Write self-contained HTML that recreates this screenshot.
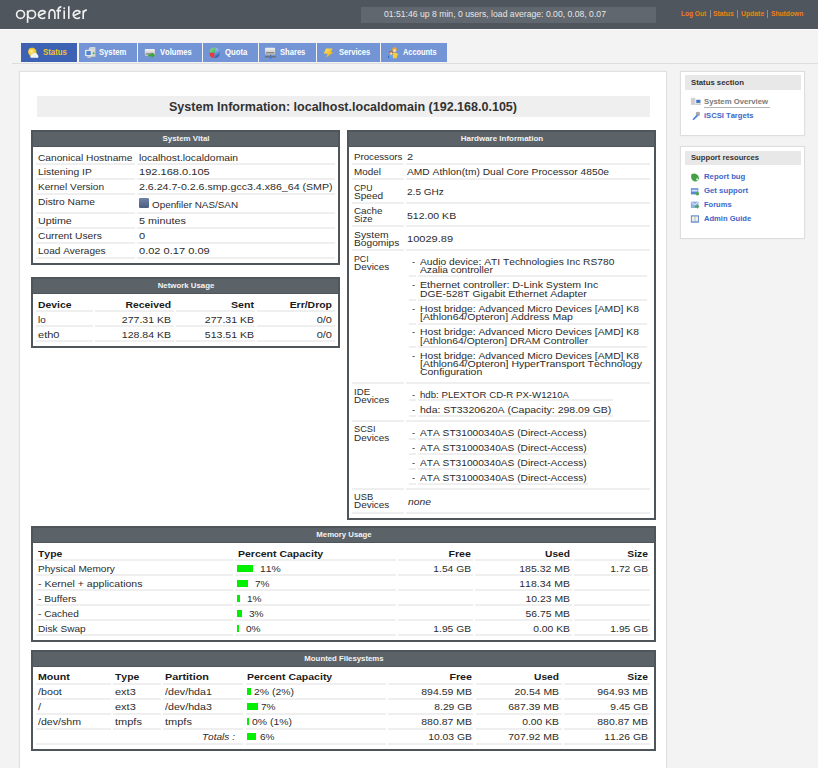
<!DOCTYPE html><html><head><meta charset="utf-8"><style>
html,body{margin:0;padding:0;}
body{width:818px;height:768px;overflow:hidden;background:#f3f3f3;position:relative;font-family:"Liberation Sans",sans-serif;}
.t{position:absolute;white-space:nowrap;line-height:20px;font-kerning:none;font-family:"Liberation Sans",sans-serif;}
.r{text-align:right;}
.c{text-align:center;}
.b{position:absolute;}
svg{position:absolute;overflow:visible;}
</style></head><body>
<div class="b" style="left:0px;top:0px;width:818px;height:29px;background:#4f565d;"></div>
<div class="b" style="left:0px;top:29px;width:818px;height:1px;background:#fbfbfb;"></div>
<div class="b" style="left:361px;top:7px;width:295px;height:16px;background:#60676e;"></div>
<div class="t" style="left:383.5px;top:4px;font-size:8.5px;color:#e6e6e6;transform:scaleX(1.0166);transform-origin:0 0;">01:51:46 up 8 min, 0 users, load average: 0.00, 0.08, 0.07</div>
<div class="t" style="left:680.7px;top:3.8000000000000007px;font-size:6.7px;font-weight:bold;color:#ee8016;transform:scaleX(0.9831);transform-origin:0 0;">Log Out</div>
<div class="t" style="left:713px;top:3.8000000000000007px;font-size:6.7px;font-weight:bold;color:#ee8016;transform:scaleX(1.0183);transform-origin:0 0;">Status</div>
<div class="t" style="left:740.7px;top:3.8000000000000007px;font-size:6.7px;font-weight:bold;color:#ee8016;transform:scaleX(1.0228);transform-origin:0 0;">Update</div>
<div class="t" style="left:770.6px;top:3.8000000000000007px;font-size:6.7px;font-weight:bold;color:#ee8016;transform:scaleX(0.9966);transform-origin:0 0;">Shutdown</div>
<div class="b" style="left:709.5px;top:10px;width:1px;height:8px;background:#8a8f94;"></div>
<div class="b" style="left:736.8px;top:10px;width:1px;height:8px;background:#8a8f94;"></div>
<div class="b" style="left:766.8px;top:10px;width:1px;height:8px;background:#8a8f94;"></div>
<div class="b" style="left:21px;top:43px;width:56px;height:19px;background:#3d62b3;"></div>
<div class="t" style="left:43.3px;top:43px;font-size:8.2px;font-weight:bold;color:#f3c623;transform:scaleX(0.9561);transform-origin:0 0;">Status</div>
<div class="b" style="left:79px;top:43px;width:58px;height:19px;background:#7395d5;"></div>
<div class="t" style="left:99px;top:43px;font-size:8.2px;font-weight:bold;color:#ffffff;transform:scaleX(0.9353);transform-origin:0 0;">System</div>
<div class="b" style="left:138px;top:43px;width:64px;height:19px;background:#7395d5;"></div>
<div class="t" style="left:160.1px;top:43px;font-size:8.2px;font-weight:bold;color:#ffffff;transform:scaleX(0.9259);transform-origin:0 0;">Volumes</div>
<div class="b" style="left:203px;top:43px;width:55px;height:19px;background:#7395d5;"></div>
<div class="t" style="left:224.8px;top:43px;font-size:8.2px;font-weight:bold;color:#ffffff;transform:scaleX(0.9407);transform-origin:0 0;">Quota</div>
<div class="b" style="left:259px;top:43px;width:57px;height:19px;background:#7395d5;"></div>
<div class="t" style="left:280.4px;top:43px;font-size:8.2px;font-weight:bold;color:#ffffff;transform:scaleX(0.9276);transform-origin:0 0;">Shares</div>
<div class="b" style="left:317px;top:43px;width:63px;height:19px;background:#7395d5;"></div>
<div class="t" style="left:338.8px;top:43px;font-size:8.2px;font-weight:bold;color:#ffffff;transform:scaleX(0.9226);transform-origin:0 0;">Services</div>
<div class="b" style="left:381px;top:43px;width:66px;height:19px;background:#7395d5;"></div>
<div class="t" style="left:402.8px;top:43px;font-size:8.2px;font-weight:bold;color:#ffffff;transform:scaleX(0.9018);transform-origin:0 0;">Accounts</div>
<div class="b" style="left:12px;top:63px;width:806px;height:1px;background:#dddddd;"></div>
<div class="b" style="left:20px;top:72px;width:646px;height:700px;background:#ffffff;box-shadow:0 0 1px 1px #e0e0e0;"></div>
<div class="b" style="left:37px;top:96px;width:613px;height:21px;background:#efefef;"></div>
<div class="t c" style="left:-56.69999999999999px;width:800px;top:96.5px;font-size:12.0px;font-weight:bold;color:#333;transform:scaleX(1.0438);transform-origin:400px 0;">System Information: localhost.localdomain (192.168.0.105)</div>
<div class="b" style="left:681px;top:72px;width:123px;height:63px;background:#ffffff;box-shadow:0 0 1px 1px #dedede;"></div>
<div class="b" style="left:684.5px;top:75.3px;width:116.5px;height:14.299999999999997px;background:#e8e8e8;"></div>
<div class="t" style="left:690.8px;top:72.5px;font-size:7.8px;font-weight:bold;color:#333;transform:scaleX(0.9942);transform-origin:0 0;">Status section</div>
<div class="t" style="left:704.4px;top:92.4px;font-size:7.8px;font-weight:bold;color:#7a7a7a;transform:scaleX(0.9919);transform-origin:0 0;">System Overview</div>
<div class="b" style="left:704.4px;top:107px;width:66px;height:1px;background:#b5b5b5;"></div>
<div class="t" style="left:704.4px;top:105.8px;font-size:7.8px;font-weight:bold;color:#3d65c9;transform:scaleX(0.9757);transform-origin:0 0;">iSCSI Targets</div>
<div class="b" style="left:681px;top:147px;width:123px;height:91px;background:#ffffff;box-shadow:0 0 1px 1px #dedede;"></div>
<div class="b" style="left:684.5px;top:151px;width:116.5px;height:13.800000000000011px;background:#e8e8e8;"></div>
<div class="t" style="left:690.8px;top:147.5px;font-size:7.8px;font-weight:bold;color:#333;transform:scaleX(0.9818);transform-origin:0 0;">Support resources</div>
<div class="t" style="left:704.4px;top:167.4px;font-size:7.8px;font-weight:bold;color:#3d65c9;transform:scaleX(0.9943);transform-origin:0 0;">Report bug</div>
<div class="t" style="left:704.4px;top:180.8px;font-size:7.8px;font-weight:bold;color:#3d65c9;transform:scaleX(0.9962);transform-origin:0 0;">Get support</div>
<div class="t" style="left:704.4px;top:194.6px;font-size:7.8px;font-weight:bold;color:#3d65c9;transform:scaleX(0.9646);transform-origin:0 0;">Forums</div>
<div class="t" style="left:704.4px;top:208.5px;font-size:7.8px;font-weight:bold;color:#3d65c9;transform:scaleX(0.9723);transform-origin:0 0;">Admin Guide</div>
<div class="b" style="left:31px;top:130px;width:309px;height:135px;background:#4e565c;"></div>
<div class="b" style="left:33px;top:147px;width:305px;height:116px;background:#ffffff;"></div>
<div class="b" style="left:33px;top:132px;width:305px;height:14px;background:#5b6268;"></div>
<div class="t c" style="left:-214.5px;width:800px;top:128.8px;font-size:7.5px;font-weight:bold;color:#f4f4f4;transform:scaleX(1.0544);transform-origin:400px 0;">System Vital</div>
<div class="b" style="left:36px;top:163px;width:99px;height:2px;background:#efefef;"></div>
<div class="b" style="left:137px;top:163px;width:198px;height:2px;background:#efefef;"></div>
<div class="b" style="left:36px;top:178px;width:99px;height:2px;background:#efefef;"></div>
<div class="b" style="left:137px;top:178px;width:198px;height:2px;background:#efefef;"></div>
<div class="b" style="left:36px;top:193px;width:99px;height:2px;background:#efefef;"></div>
<div class="b" style="left:137px;top:193px;width:198px;height:2px;background:#efefef;"></div>
<div class="b" style="left:36px;top:212px;width:99px;height:2px;background:#efefef;"></div>
<div class="b" style="left:137px;top:212px;width:198px;height:2px;background:#efefef;"></div>
<div class="b" style="left:36px;top:227px;width:99px;height:2px;background:#efefef;"></div>
<div class="b" style="left:137px;top:227px;width:198px;height:2px;background:#efefef;"></div>
<div class="b" style="left:36px;top:242px;width:99px;height:2px;background:#efefef;"></div>
<div class="b" style="left:137px;top:242px;width:198px;height:2px;background:#efefef;"></div>
<div class="b" style="left:36px;top:257px;width:99px;height:2px;background:#efefef;"></div>
<div class="b" style="left:137px;top:257px;width:198px;height:2px;background:#efefef;"></div>
<div class="t" style="left:38px;top:147.6px;font-size:9.8px;color:#2c2c2c;transform:scaleX(1.0389);transform-origin:0 0;">Canonical Hostname</div>
<div class="t" style="left:139px;top:147.6px;font-size:9.8px;color:#2c2c2c;transform:scaleX(1.0579);transform-origin:0 0;">localhost.localdomain</div>
<div class="t" style="left:38px;top:162.4px;font-size:9.8px;color:#2c2c2c;transform:scaleX(1.0503);transform-origin:0 0;">Listening IP</div>
<div class="t" style="left:139px;top:162.4px;font-size:9.8px;color:#2c2c2c;transform:scaleX(1.1280);transform-origin:0 0;">192.168.0.105</div>
<div class="t" style="left:38px;top:177.4px;font-size:9.8px;color:#2c2c2c;transform:scaleX(1.0281);transform-origin:0 0;">Kernel Version</div>
<div class="t" style="left:139px;top:177.4px;font-size:9.8px;color:#2c2c2c;transform:scaleX(1.0837);transform-origin:0 0;">2.6.24.7-0.2.6.smp.gcc3.4.x86_64 (SMP)</div>
<div class="t" style="left:38px;top:192px;font-size:9.8px;color:#2c2c2c;transform:scaleX(1.0442);transform-origin:0 0;">Distro Name</div>
<div class="t" style="left:38px;top:211.2px;font-size:9.8px;color:#2c2c2c;transform:scaleX(1.0892);transform-origin:0 0;">Uptime</div>
<div class="t" style="left:139px;top:211.2px;font-size:9.8px;color:#2c2c2c;transform:scaleX(1.1032);transform-origin:0 0;">5 minutes</div>
<div class="t" style="left:38px;top:226.3px;font-size:9.8px;color:#2c2c2c;transform:scaleX(1.0457);transform-origin:0 0;">Current Users</div>
<div class="t" style="left:139px;top:226.3px;font-size:9.8px;color:#2c2c2c;transform:scaleX(1.1279);transform-origin:0 0;">0</div>
<div class="t" style="left:38px;top:241.4px;font-size:9.8px;color:#2c2c2c;transform:scaleX(1.0257);transform-origin:0 0;">Load Averages</div>
<div class="t" style="left:139px;top:241.4px;font-size:9.8px;color:#2c2c2c;transform:scaleX(1.1281);transform-origin:0 0;">0.02 0.17 0.09</div>
<div class="t" style="left:152px;top:195.3px;font-size:9.8px;color:#2c2c2c;transform:scaleX(1.0064);transform-origin:0 0;">Openfiler NAS/SAN</div>
<div class="b" style="left:31px;top:277px;width:309px;height:71px;background:#4e565c;"></div>
<div class="b" style="left:33px;top:294px;width:305px;height:52px;background:#ffffff;"></div>
<div class="b" style="left:33px;top:279px;width:305px;height:14px;background:#5b6268;"></div>
<div class="t c" style="left:-214.5px;width:800px;top:275.8px;font-size:7.5px;font-weight:bold;color:#f4f4f4;transform:scaleX(1.0459);transform-origin:400px 0;">Network Usage</div>
<div class="b" style="left:36px;top:310px;width:57px;height:2px;background:#efefef;"></div>
<div class="b" style="left:94.5px;top:310px;width:79.5px;height:2px;background:#efefef;"></div>
<div class="b" style="left:176px;top:310px;width:79px;height:2px;background:#efefef;"></div>
<div class="b" style="left:257px;top:310px;width:77.5px;height:2px;background:#efefef;"></div>
<div class="b" style="left:36px;top:325px;width:57px;height:2px;background:#efefef;"></div>
<div class="b" style="left:94.5px;top:325px;width:79.5px;height:2px;background:#efefef;"></div>
<div class="b" style="left:176px;top:325px;width:79px;height:2px;background:#efefef;"></div>
<div class="b" style="left:257px;top:325px;width:77.5px;height:2px;background:#efefef;"></div>
<div class="b" style="left:36px;top:340px;width:57px;height:2px;background:#efefef;"></div>
<div class="b" style="left:94.5px;top:340px;width:79.5px;height:2px;background:#efefef;"></div>
<div class="b" style="left:176px;top:340px;width:79px;height:2px;background:#efefef;"></div>
<div class="b" style="left:257px;top:340px;width:77.5px;height:2px;background:#efefef;"></div>
<div class="t" style="left:38.3px;top:294.5px;font-size:9.8px;font-weight:bold;color:#1a1a1a;transform:scaleX(1.0629);transform-origin:0 0;">Device</div>
<div class="t r" style="left:-428.7px;width:600px;top:294.5px;font-size:9.8px;font-weight:bold;color:#1a1a1a;transform:scaleX(1.0563);transform-origin:600px 0;">Received</div>
<div class="t r" style="left:-346.4px;width:600px;top:294.5px;font-size:9.8px;font-weight:bold;color:#1a1a1a;transform:scaleX(1.0848);transform-origin:600px 0;">Sent</div>
<div class="t r" style="left:-267.7px;width:600px;top:294.5px;font-size:9.8px;font-weight:bold;color:#1a1a1a;transform:scaleX(1.0659);transform-origin:600px 0;">Err/Drop</div>
<div class="t" style="left:38.3px;top:309.8px;font-size:9.8px;color:#2c2c2c;transform:scaleX(1.0074);transform-origin:0 0;">lo</div>
<div class="t r" style="left:-428.7px;width:600px;top:309.8px;font-size:9.8px;color:#2c2c2c;transform:scaleX(1.0745);transform-origin:600px 0;">277.31 KB</div>
<div class="t r" style="left:-346.4px;width:600px;top:309.8px;font-size:9.8px;color:#2c2c2c;transform:scaleX(1.0745);transform-origin:600px 0;">277.31 KB</div>
<div class="t r" style="left:-267.7px;width:600px;top:309.8px;font-size:9.8px;color:#2c2c2c;transform:scaleX(1.1281);transform-origin:600px 0;">0/0</div>
<div class="t" style="left:38.3px;top:324.9px;font-size:9.8px;color:#2c2c2c;transform:scaleX(1.1280);transform-origin:0 0;">eth0</div>
<div class="t r" style="left:-428.7px;width:600px;top:324.9px;font-size:9.8px;color:#2c2c2c;transform:scaleX(1.0745);transform-origin:600px 0;">128.84 KB</div>
<div class="t r" style="left:-346.4px;width:600px;top:324.9px;font-size:9.8px;color:#2c2c2c;transform:scaleX(1.0745);transform-origin:600px 0;">513.51 KB</div>
<div class="t r" style="left:-267.7px;width:600px;top:324.9px;font-size:9.8px;color:#2c2c2c;transform:scaleX(1.1281);transform-origin:600px 0;">0/0</div>
<div class="b" style="left:347px;top:130px;width:309px;height:390px;background:#4e565c;"></div>
<div class="b" style="left:349px;top:147px;width:305px;height:371px;background:#ffffff;"></div>
<div class="b" style="left:349px;top:132px;width:305px;height:14px;background:#5b6268;"></div>
<div class="t c" style="left:101.5px;width:800px;top:128.8px;font-size:7.5px;font-weight:bold;color:#f4f4f4;transform:scaleX(1.0622);transform-origin:400px 0;">Hardware Information</div>
<div class="b" style="left:352px;top:163px;width:51.69999999999999px;height:2px;background:#efefef;"></div>
<div class="b" style="left:405.7px;top:163px;width:244.50000000000006px;height:2px;background:#efefef;"></div>
<div class="b" style="left:352px;top:178px;width:51.69999999999999px;height:2px;background:#efefef;"></div>
<div class="b" style="left:405.7px;top:178px;width:244.50000000000006px;height:2px;background:#efefef;"></div>
<div class="b" style="left:352px;top:202px;width:51.69999999999999px;height:2px;background:#efefef;"></div>
<div class="b" style="left:405.7px;top:202px;width:244.50000000000006px;height:2px;background:#efefef;"></div>
<div class="b" style="left:352px;top:225px;width:51.69999999999999px;height:2px;background:#efefef;"></div>
<div class="b" style="left:405.7px;top:225px;width:244.50000000000006px;height:2px;background:#efefef;"></div>
<div class="b" style="left:352px;top:249px;width:51.69999999999999px;height:2px;background:#efefef;"></div>
<div class="b" style="left:405.7px;top:249px;width:244.50000000000006px;height:2px;background:#efefef;"></div>
<div class="b" style="left:352px;top:382px;width:51.69999999999999px;height:2px;background:#efefef;"></div>
<div class="b" style="left:405.7px;top:382px;width:244.50000000000006px;height:2px;background:#efefef;"></div>
<div class="b" style="left:352px;top:420px;width:51.69999999999999px;height:2px;background:#efefef;"></div>
<div class="b" style="left:405.7px;top:420px;width:244.50000000000006px;height:2px;background:#efefef;"></div>
<div class="b" style="left:352px;top:488px;width:51.69999999999999px;height:2px;background:#efefef;"></div>
<div class="b" style="left:405.7px;top:488px;width:244.50000000000006px;height:2px;background:#efefef;"></div>
<div class="b" style="left:352px;top:512px;width:51.69999999999999px;height:2px;background:#efefef;"></div>
<div class="b" style="left:405.7px;top:512px;width:244.50000000000006px;height:2px;background:#efefef;"></div>
<div class="t" style="left:354px;top:147.3px;font-size:9.8px;color:#2c2c2c;transform:scaleX(0.9877);transform-origin:0 0;">Processors</div>
<div class="t" style="left:354px;top:162.3px;font-size:9.8px;color:#2c2c2c;transform:scaleX(1.0076);transform-origin:0 0;">Model</div>
<div class="t" style="left:354px;top:177.8px;font-size:9.8px;color:#2c2c2c;transform:scaleX(0.8913);transform-origin:0 0;">CPU</div>
<div class="t" style="left:354px;top:186.05px;font-size:9.8px;color:#2c2c2c;transform:scaleX(1.0304);transform-origin:0 0;">Speed</div>
<div class="t" style="left:354px;top:201.2px;font-size:9.8px;color:#2c2c2c;transform:scaleX(1.0036);transform-origin:0 0;">Cache</div>
<div class="t" style="left:354px;top:209.45px;font-size:9.8px;color:#2c2c2c;transform:scaleX(0.9673);transform-origin:0 0;">Size</div>
<div class="t" style="left:354px;top:225.0px;font-size:9.8px;color:#2c2c2c;transform:scaleX(1.0583);transform-origin:0 0;">System</div>
<div class="t" style="left:354px;top:233.25px;font-size:9.8px;color:#2c2c2c;transform:scaleX(1.0403);transform-origin:0 0;">Bogomips</div>
<div class="t" style="left:354px;top:248.60000000000002px;font-size:9.8px;color:#2c2c2c;transform:scaleX(0.8937);transform-origin:0 0;">PCI</div>
<div class="t" style="left:354px;top:256.85px;font-size:9.8px;color:#2c2c2c;transform:scaleX(1.0141);transform-origin:0 0;">Devices</div>
<div class="t" style="left:354px;top:381.6px;font-size:9.8px;color:#2c2c2c;transform:scaleX(0.9877);transform-origin:0 0;">IDE</div>
<div class="t" style="left:354px;top:389.85px;font-size:9.8px;color:#2c2c2c;transform:scaleX(1.0141);transform-origin:0 0;">Devices</div>
<div class="t" style="left:354px;top:419.3px;font-size:9.8px;color:#2c2c2c;transform:scaleX(0.9406);transform-origin:0 0;">SCSI</div>
<div class="t" style="left:354px;top:427.55px;font-size:9.8px;color:#2c2c2c;transform:scaleX(1.0141);transform-origin:0 0;">Devices</div>
<div class="t" style="left:354px;top:487.2px;font-size:9.8px;color:#2c2c2c;transform:scaleX(0.9533);transform-origin:0 0;">USB</div>
<div class="t" style="left:354px;top:495.45px;font-size:9.8px;color:#2c2c2c;transform:scaleX(1.0141);transform-origin:0 0;">Devices</div>
<div class="t" style="left:407px;top:147.3px;font-size:9.8px;color:#2c2c2c;transform:scaleX(1.1279);transform-origin:0 0;">2</div>
<div class="t" style="left:407px;top:162.3px;font-size:9.8px;color:#2c2c2c;transform:scaleX(1.0452);transform-origin:0 0;">AMD Athlon(tm) Dual Core Processor 4850e</div>
<div class="t" style="left:407px;top:181.8px;font-size:9.8px;color:#2c2c2c;transform:scaleX(1.0261);transform-origin:0 0;">2.5 GHz</div>
<div class="t" style="left:407px;top:205.5px;font-size:9.8px;color:#2c2c2c;transform:scaleX(1.0745);transform-origin:0 0;">512.00 KB</div>
<div class="t" style="left:407px;top:229.2px;font-size:9.8px;color:#2c2c2c;transform:scaleX(1.1279);transform-origin:0 0;">10029.89</div>
<div class="b" style="left:408.8px;top:275px;width:7.5px;height:2px;background:#efefef;"></div>
<div class="b" style="left:418.1px;top:275px;width:228.60000000000002px;height:2px;background:#efefef;"></div>
<div class="b" style="left:408.8px;top:299px;width:7.5px;height:2px;background:#efefef;"></div>
<div class="b" style="left:418.1px;top:299px;width:228.60000000000002px;height:2px;background:#efefef;"></div>
<div class="b" style="left:408.8px;top:322.5px;width:7.5px;height:2px;background:#efefef;"></div>
<div class="b" style="left:418.1px;top:322.5px;width:228.60000000000002px;height:2px;background:#efefef;"></div>
<div class="b" style="left:408.8px;top:346px;width:7.5px;height:2px;background:#efefef;"></div>
<div class="b" style="left:418.1px;top:346px;width:228.60000000000002px;height:2px;background:#efefef;"></div>
<div class="t" style="left:411.5px;top:251.60000000000002px;font-size:9.8px;color:#2c2c2c;transform:scaleX(0.9418);transform-origin:0 0;">-</div>
<div class="t" style="left:420.3px;top:251.60000000000002px;font-size:9.8px;color:#2c2c2c;transform:scaleX(1.0435);transform-origin:0 0;">Audio device: ATI Technologies Inc RS780</div>
<div class="t" style="left:420.3px;top:259.85px;font-size:9.8px;color:#2c2c2c;transform:scaleX(1.0470);transform-origin:0 0;">Azalia controller</div>
<div class="t" style="left:411.5px;top:275.4px;font-size:9.8px;color:#2c2c2c;transform:scaleX(0.9418);transform-origin:0 0;">-</div>
<div class="t" style="left:420.3px;top:275.4px;font-size:9.8px;color:#2c2c2c;transform:scaleX(1.0802);transform-origin:0 0;">Ethernet controller: D-Link System Inc</div>
<div class="t" style="left:420.3px;top:283.65px;font-size:9.8px;color:#2c2c2c;transform:scaleX(1.0592);transform-origin:0 0;">DGE-528T Gigabit Ethernet Adapter</div>
<div class="t" style="left:411.5px;top:298.9px;font-size:9.8px;color:#2c2c2c;transform:scaleX(0.9418);transform-origin:0 0;">-</div>
<div class="t" style="left:420.3px;top:298.9px;font-size:9.8px;color:#2c2c2c;transform:scaleX(1.0526);transform-origin:0 0;">Host bridge: Advanced Micro Devices [AMD] K8</div>
<div class="t" style="left:420.3px;top:307.15px;font-size:9.8px;color:#2c2c2c;transform:scaleX(1.0714);transform-origin:0 0;">[Athlon64/Opteron] Address Map</div>
<div class="t" style="left:411.5px;top:322.4px;font-size:9.8px;color:#2c2c2c;transform:scaleX(0.9418);transform-origin:0 0;">-</div>
<div class="t" style="left:420.3px;top:322.4px;font-size:9.8px;color:#2c2c2c;transform:scaleX(1.0526);transform-origin:0 0;">Host bridge: Advanced Micro Devices [AMD] K8</div>
<div class="t" style="left:420.3px;top:330.65px;font-size:9.8px;color:#2c2c2c;transform:scaleX(1.0580);transform-origin:0 0;">[Athlon64/Opteron] DRAM Controller</div>
<div class="t" style="left:411.5px;top:345.8px;font-size:9.8px;color:#2c2c2c;transform:scaleX(0.9418);transform-origin:0 0;">-</div>
<div class="t" style="left:420.3px;top:345.8px;font-size:9.8px;color:#2c2c2c;transform:scaleX(1.0526);transform-origin:0 0;">Host bridge: Advanced Micro Devices [AMD] K8</div>
<div class="t" style="left:420.3px;top:354.05px;font-size:9.8px;color:#2c2c2c;transform:scaleX(1.0756);transform-origin:0 0;">[Athlon64/Opteron] HyperTransport Technology</div>
<div class="t" style="left:420.3px;top:362.3px;font-size:9.8px;color:#2c2c2c;transform:scaleX(1.0677);transform-origin:0 0;">Configuration</div>
<div class="b" style="left:408.8px;top:399px;width:7.5px;height:2px;background:#efefef;"></div>
<div class="b" style="left:418.1px;top:399px;width:195.29999999999995px;height:2px;background:#efefef;"></div>
<div class="b" style="left:408.8px;top:415px;width:7.5px;height:2px;background:#efefef;"></div>
<div class="b" style="left:418.1px;top:415px;width:195.29999999999995px;height:2px;background:#efefef;"></div>
<div class="t" style="left:411.5px;top:384.5px;font-size:9.8px;color:#2c2c2c;transform:scaleX(0.9418);transform-origin:0 0;">-</div>
<div class="t" style="left:420.3px;top:384.5px;font-size:9.8px;color:#2c2c2c;transform:scaleX(0.9846);transform-origin:0 0;">hdb: PLEXTOR CD-R PX-W1210A</div>
<div class="t" style="left:411.5px;top:399.6px;font-size:9.8px;color:#2c2c2c;transform:scaleX(0.9418);transform-origin:0 0;">-</div>
<div class="t" style="left:420.3px;top:399.6px;font-size:9.8px;color:#2c2c2c;transform:scaleX(1.0708);transform-origin:0 0;">hda: ST3320620A (Capacity: 298.09 GB)</div>
<div class="b" style="left:408.8px;top:438px;width:7.5px;height:2px;background:#efefef;"></div>
<div class="b" style="left:418.1px;top:438px;width:169.60000000000002px;height:2px;background:#efefef;"></div>
<div class="b" style="left:408.8px;top:453px;width:7.5px;height:2px;background:#efefef;"></div>
<div class="b" style="left:418.1px;top:453px;width:169.60000000000002px;height:2px;background:#efefef;"></div>
<div class="b" style="left:408.8px;top:468px;width:7.5px;height:2px;background:#efefef;"></div>
<div class="b" style="left:418.1px;top:468px;width:169.60000000000002px;height:2px;background:#efefef;"></div>
<div class="b" style="left:408.8px;top:483px;width:7.5px;height:2px;background:#efefef;"></div>
<div class="b" style="left:418.1px;top:483px;width:169.60000000000002px;height:2px;background:#efefef;"></div>
<div class="t" style="left:411.5px;top:422.6px;font-size:9.8px;color:#2c2c2c;transform:scaleX(0.9418);transform-origin:0 0;">-</div>
<div class="t" style="left:420.3px;top:422.6px;font-size:9.8px;color:#2c2c2c;transform:scaleX(1.0378);transform-origin:0 0;">ATA ST31000340AS (Direct-Access)</div>
<div class="t" style="left:411.5px;top:437.5px;font-size:9.8px;color:#2c2c2c;transform:scaleX(0.9418);transform-origin:0 0;">-</div>
<div class="t" style="left:420.3px;top:437.5px;font-size:9.8px;color:#2c2c2c;transform:scaleX(1.0378);transform-origin:0 0;">ATA ST31000340AS (Direct-Access)</div>
<div class="t" style="left:411.5px;top:452.5px;font-size:9.8px;color:#2c2c2c;transform:scaleX(0.9418);transform-origin:0 0;">-</div>
<div class="t" style="left:420.3px;top:452.5px;font-size:9.8px;color:#2c2c2c;transform:scaleX(1.0378);transform-origin:0 0;">ATA ST31000340AS (Direct-Access)</div>
<div class="t" style="left:411.5px;top:467.6px;font-size:9.8px;color:#2c2c2c;transform:scaleX(0.9418);transform-origin:0 0;">-</div>
<div class="t" style="left:420.3px;top:467.6px;font-size:9.8px;color:#2c2c2c;transform:scaleX(1.0378);transform-origin:0 0;">ATA ST31000340AS (Direct-Access)</div>
<div class="t" style="left:407.6px;top:491.5px;font-size:9.8px;font-style:italic;color:#2c2c2c;transform:scaleX(1.0574);transform-origin:0 0;">none</div>
<div class="b" style="left:31px;top:526px;width:625px;height:116px;background:#4e565c;"></div>
<div class="b" style="left:33px;top:543px;width:621px;height:97px;background:#ffffff;"></div>
<div class="b" style="left:33px;top:528px;width:621px;height:14px;background:#5b6268;"></div>
<div class="t c" style="left:-56.5px;width:800px;top:524.8px;font-size:7.5px;font-weight:bold;color:#f4f4f4;transform:scaleX(1.0356);transform-origin:400px 0;">Memory Usage</div>
<div class="b" style="left:36px;top:559px;width:197.3px;height:2px;background:#efefef;"></div>
<div class="b" style="left:235.3px;top:559px;width:160.3px;height:2px;background:#efefef;"></div>
<div class="b" style="left:398px;top:559px;width:74.5px;height:2px;background:#efefef;"></div>
<div class="b" style="left:474.5px;top:559px;width:97.5px;height:2px;background:#efefef;"></div>
<div class="b" style="left:574.3px;top:559px;width:75.90000000000009px;height:2px;background:#efefef;"></div>
<div class="b" style="left:36px;top:574px;width:197.3px;height:2px;background:#efefef;"></div>
<div class="b" style="left:235.3px;top:574px;width:160.3px;height:2px;background:#efefef;"></div>
<div class="b" style="left:398px;top:574px;width:74.5px;height:2px;background:#efefef;"></div>
<div class="b" style="left:474.5px;top:574px;width:97.5px;height:2px;background:#efefef;"></div>
<div class="b" style="left:574.3px;top:574px;width:75.90000000000009px;height:2px;background:#efefef;"></div>
<div class="b" style="left:36px;top:589px;width:197.3px;height:2px;background:#efefef;"></div>
<div class="b" style="left:235.3px;top:589px;width:160.3px;height:2px;background:#efefef;"></div>
<div class="b" style="left:398px;top:589px;width:74.5px;height:2px;background:#efefef;"></div>
<div class="b" style="left:474.5px;top:589px;width:97.5px;height:2px;background:#efefef;"></div>
<div class="b" style="left:574.3px;top:589px;width:75.90000000000009px;height:2px;background:#efefef;"></div>
<div class="b" style="left:36px;top:604px;width:197.3px;height:2px;background:#efefef;"></div>
<div class="b" style="left:235.3px;top:604px;width:160.3px;height:2px;background:#efefef;"></div>
<div class="b" style="left:398px;top:604px;width:74.5px;height:2px;background:#efefef;"></div>
<div class="b" style="left:474.5px;top:604px;width:97.5px;height:2px;background:#efefef;"></div>
<div class="b" style="left:574.3px;top:604px;width:75.90000000000009px;height:2px;background:#efefef;"></div>
<div class="b" style="left:36px;top:619px;width:197.3px;height:2px;background:#efefef;"></div>
<div class="b" style="left:235.3px;top:619px;width:160.3px;height:2px;background:#efefef;"></div>
<div class="b" style="left:398px;top:619px;width:74.5px;height:2px;background:#efefef;"></div>
<div class="b" style="left:474.5px;top:619px;width:97.5px;height:2px;background:#efefef;"></div>
<div class="b" style="left:574.3px;top:619px;width:75.90000000000009px;height:2px;background:#efefef;"></div>
<div class="b" style="left:36px;top:634px;width:197.3px;height:2px;background:#efefef;"></div>
<div class="b" style="left:235.3px;top:634px;width:160.3px;height:2px;background:#efefef;"></div>
<div class="b" style="left:398px;top:634px;width:74.5px;height:2px;background:#efefef;"></div>
<div class="b" style="left:474.5px;top:634px;width:97.5px;height:2px;background:#efefef;"></div>
<div class="b" style="left:574.3px;top:634px;width:75.90000000000009px;height:2px;background:#efefef;"></div>
<div class="t" style="left:38.2px;top:543.7px;font-size:9.8px;font-weight:bold;color:#1a1a1a;transform:scaleX(1.0615);transform-origin:0 0;">Type</div>
<div class="t" style="left:237.6px;top:543.7px;font-size:9.8px;font-weight:bold;color:#1a1a1a;transform:scaleX(1.0719);transform-origin:0 0;">Percent Capacity</div>
<div class="t r" style="left:-129.39999999999998px;width:600px;top:543.7px;font-size:9.8px;font-weight:bold;color:#1a1a1a;transform:scaleX(1.0889);transform-origin:600px 0;">Free</div>
<div class="t r" style="left:-30px;width:600px;top:543.7px;font-size:9.8px;font-weight:bold;color:#1a1a1a;transform:scaleX(1.0404);transform-origin:600px 0;">Used</div>
<div class="t r" style="left:48.299999999999955px;width:600px;top:543.7px;font-size:9.8px;font-weight:bold;color:#1a1a1a;transform:scaleX(1.0544);transform-origin:600px 0;">Size</div>
<div class="t" style="left:38.2px;top:558.8px;font-size:9.8px;color:#2c2c2c;transform:scaleX(1.0300);transform-origin:0 0;">Physical Memory</div>
<div class="b" style="left:237.2px;top:565.0px;width:15.6px;height:7px;background:#00f000;"></div>
<div class="t" style="left:260.1px;top:558.8px;font-size:9.8px;color:#2c2c2c;transform:scaleX(1.0577);transform-origin:0 0;">11%</div>
<div class="t r" style="left:-129.39999999999998px;width:600px;top:558.8px;font-size:9.8px;color:#2c2c2c;transform:scaleX(1.0472);transform-origin:600px 0;">1.54 GB</div>
<div class="t r" style="left:-30px;width:600px;top:558.8px;font-size:9.8px;color:#2c2c2c;transform:scaleX(1.0700);transform-origin:600px 0;">185.32 MB</div>
<div class="t r" style="left:48.299999999999955px;width:600px;top:558.8px;font-size:9.8px;color:#2c2c2c;transform:scaleX(1.0472);transform-origin:600px 0;">1.72 GB</div>
<div class="t" style="left:38.2px;top:573.8px;font-size:9.8px;color:#2c2c2c;transform:scaleX(1.0747);transform-origin:0 0;">- Kernel + applications</div>
<div class="b" style="left:237.2px;top:580.0px;width:10.6px;height:7px;background:#00f000;"></div>
<div class="t" style="left:254.8px;top:573.8px;font-size:9.8px;color:#2c2c2c;transform:scaleX(1.0307);transform-origin:0 0;">7%</div>
<div class="t r" style="left:-30px;width:600px;top:573.8px;font-size:9.8px;color:#2c2c2c;transform:scaleX(1.0700);transform-origin:600px 0;">118.34 MB</div>
<div class="t" style="left:38.2px;top:588.8px;font-size:9.8px;color:#2c2c2c;transform:scaleX(1.0375);transform-origin:0 0;">- Buffers</div>
<div class="b" style="left:237.2px;top:595.0px;width:2.8px;height:7px;background:#00f000;"></div>
<div class="t" style="left:246.8px;top:588.8px;font-size:9.8px;color:#2c2c2c;transform:scaleX(1.0307);transform-origin:0 0;">1%</div>
<div class="t r" style="left:-30px;width:600px;top:588.8px;font-size:9.8px;color:#2c2c2c;transform:scaleX(1.0625);transform-origin:600px 0;">10.23 MB</div>
<div class="t" style="left:38.2px;top:603.8px;font-size:9.8px;color:#2c2c2c;transform:scaleX(1.0242);transform-origin:0 0;">- Cached</div>
<div class="b" style="left:237.2px;top:610.0px;width:5.3px;height:7px;background:#00f000;"></div>
<div class="t" style="left:249.3px;top:603.8px;font-size:9.8px;color:#2c2c2c;transform:scaleX(1.0307);transform-origin:0 0;">3%</div>
<div class="t r" style="left:-30px;width:600px;top:603.8px;font-size:9.8px;color:#2c2c2c;transform:scaleX(1.0625);transform-origin:600px 0;">56.75 MB</div>
<div class="t" style="left:38.2px;top:618.8px;font-size:9.8px;color:#2c2c2c;transform:scaleX(1.0291);transform-origin:0 0;">Disk Swap</div>
<div class="b" style="left:237.2px;top:625.0px;width:2px;height:7px;background:#00f000;"></div>
<div class="t" style="left:246px;top:618.8px;font-size:9.8px;color:#2c2c2c;transform:scaleX(1.0307);transform-origin:0 0;">0%</div>
<div class="t r" style="left:-129.39999999999998px;width:600px;top:618.8px;font-size:9.8px;color:#2c2c2c;transform:scaleX(1.0472);transform-origin:600px 0;">1.95 GB</div>
<div class="t r" style="left:-30px;width:600px;top:618.8px;font-size:9.8px;color:#2c2c2c;transform:scaleX(1.0578);transform-origin:600px 0;">0.00 KB</div>
<div class="t r" style="left:48.299999999999955px;width:600px;top:618.8px;font-size:9.8px;color:#2c2c2c;transform:scaleX(1.0472);transform-origin:600px 0;">1.95 GB</div>
<div class="b" style="left:31px;top:650px;width:625px;height:101px;background:#4e565c;"></div>
<div class="b" style="left:33px;top:667px;width:621px;height:82px;background:#ffffff;"></div>
<div class="b" style="left:33px;top:652px;width:621px;height:14px;background:#5b6268;"></div>
<div class="t c" style="left:-56.5px;width:800px;top:648.8px;font-size:7.5px;font-weight:bold;color:#f4f4f4;transform:scaleX(1.0392);transform-origin:400px 0;">Mounted Filesystems</div>
<div class="b" style="left:36px;top:683px;width:74.8px;height:2px;background:#efefef;"></div>
<div class="b" style="left:113.1px;top:683px;width:47.5px;height:2px;background:#efefef;"></div>
<div class="b" style="left:162.6px;top:683px;width:80.80000000000001px;height:2px;background:#efefef;"></div>
<div class="b" style="left:245.7px;top:683px;width:140.2px;height:2px;background:#efefef;"></div>
<div class="b" style="left:388.2px;top:683px;width:85.30000000000001px;height:2px;background:#efefef;"></div>
<div class="b" style="left:475.8px;top:683px;width:85.80000000000001px;height:2px;background:#efefef;"></div>
<div class="b" style="left:563.6px;top:683px;width:86.60000000000002px;height:2px;background:#efefef;"></div>
<div class="b" style="left:36px;top:698px;width:74.8px;height:2px;background:#efefef;"></div>
<div class="b" style="left:113.1px;top:698px;width:47.5px;height:2px;background:#efefef;"></div>
<div class="b" style="left:162.6px;top:698px;width:80.80000000000001px;height:2px;background:#efefef;"></div>
<div class="b" style="left:245.7px;top:698px;width:140.2px;height:2px;background:#efefef;"></div>
<div class="b" style="left:388.2px;top:698px;width:85.30000000000001px;height:2px;background:#efefef;"></div>
<div class="b" style="left:475.8px;top:698px;width:85.80000000000001px;height:2px;background:#efefef;"></div>
<div class="b" style="left:563.6px;top:698px;width:86.60000000000002px;height:2px;background:#efefef;"></div>
<div class="b" style="left:36px;top:713px;width:74.8px;height:2px;background:#efefef;"></div>
<div class="b" style="left:113.1px;top:713px;width:47.5px;height:2px;background:#efefef;"></div>
<div class="b" style="left:162.6px;top:713px;width:80.80000000000001px;height:2px;background:#efefef;"></div>
<div class="b" style="left:245.7px;top:713px;width:140.2px;height:2px;background:#efefef;"></div>
<div class="b" style="left:388.2px;top:713px;width:85.30000000000001px;height:2px;background:#efefef;"></div>
<div class="b" style="left:475.8px;top:713px;width:85.80000000000001px;height:2px;background:#efefef;"></div>
<div class="b" style="left:563.6px;top:713px;width:86.60000000000002px;height:2px;background:#efefef;"></div>
<div class="b" style="left:36px;top:728px;width:74.8px;height:2px;background:#efefef;"></div>
<div class="b" style="left:113.1px;top:728px;width:47.5px;height:2px;background:#efefef;"></div>
<div class="b" style="left:162.6px;top:728px;width:80.80000000000001px;height:2px;background:#efefef;"></div>
<div class="b" style="left:245.7px;top:728px;width:140.2px;height:2px;background:#efefef;"></div>
<div class="b" style="left:388.2px;top:728px;width:85.30000000000001px;height:2px;background:#efefef;"></div>
<div class="b" style="left:475.8px;top:728px;width:85.80000000000001px;height:2px;background:#efefef;"></div>
<div class="b" style="left:563.6px;top:728px;width:86.60000000000002px;height:2px;background:#efefef;"></div>
<div class="b" style="left:36px;top:743px;width:207.4px;height:2px;background:#efefef;"></div>
<div class="b" style="left:245.7px;top:743px;width:140.2px;height:2px;background:#efefef;"></div>
<div class="b" style="left:388.2px;top:743px;width:85.30000000000001px;height:2px;background:#efefef;"></div>
<div class="b" style="left:475.8px;top:743px;width:85.80000000000001px;height:2px;background:#efefef;"></div>
<div class="b" style="left:563.6px;top:743px;width:86.60000000000002px;height:2px;background:#efefef;"></div>
<div class="t" style="left:38px;top:667px;font-size:9.8px;font-weight:bold;color:#1a1a1a;transform:scaleX(1.0855);transform-origin:0 0;">Mount</div>
<div class="t" style="left:115px;top:667px;font-size:9.8px;font-weight:bold;color:#1a1a1a;transform:scaleX(1.0615);transform-origin:0 0;">Type</div>
<div class="t" style="left:164.5px;top:667px;font-size:9.8px;font-weight:bold;color:#1a1a1a;transform:scaleX(1.1065);transform-origin:0 0;">Partition</div>
<div class="t" style="left:247px;top:667px;font-size:9.8px;font-weight:bold;color:#1a1a1a;transform:scaleX(1.0719);transform-origin:0 0;">Percent Capacity</div>
<div class="t r" style="left:-128px;width:600px;top:667px;font-size:9.8px;font-weight:bold;color:#1a1a1a;transform:scaleX(1.0889);transform-origin:600px 0;">Free</div>
<div class="t r" style="left:-40.700000000000045px;width:600px;top:667px;font-size:9.8px;font-weight:bold;color:#1a1a1a;transform:scaleX(1.0404);transform-origin:600px 0;">Used</div>
<div class="t r" style="left:48.299999999999955px;width:600px;top:667px;font-size:9.8px;font-weight:bold;color:#1a1a1a;transform:scaleX(1.0544);transform-origin:600px 0;">Size</div>
<div class="t" style="left:38px;top:682.2px;font-size:9.8px;color:#2c2c2c;transform:scaleX(1.0929);transform-origin:0 0;">/boot</div>
<div class="t" style="left:115px;top:682.2px;font-size:9.8px;color:#2c2c2c;transform:scaleX(1.1200);transform-origin:0 0;">ext3</div>
<div class="t" style="left:164.5px;top:682.2px;font-size:9.8px;color:#2c2c2c;transform:scaleX(1.0889);transform-origin:0 0;">/dev/hda1</div>
<div class="b" style="left:246.8px;top:688.4000000000001px;width:4px;height:7px;background:#00f000;"></div>
<div class="t" style="left:254.3px;top:682.2px;font-size:9.8px;color:#2c2c2c;transform:scaleX(1.0633);transform-origin:0 0;">2% (2%)</div>
<div class="t r" style="left:-128px;width:600px;top:682.2px;font-size:9.8px;color:#2c2c2c;transform:scaleX(1.0700);transform-origin:600px 0;">894.59 MB</div>
<div class="t r" style="left:-40.700000000000045px;width:600px;top:682.2px;font-size:9.8px;color:#2c2c2c;transform:scaleX(1.0625);transform-origin:600px 0;">20.54 MB</div>
<div class="t r" style="left:48.299999999999955px;width:600px;top:682.2px;font-size:9.8px;color:#2c2c2c;transform:scaleX(1.0700);transform-origin:600px 0;">964.93 MB</div>
<div class="t" style="left:38px;top:697.2px;font-size:9.8px;color:#2c2c2c;transform:scaleX(1.1289);transform-origin:0 0;">/</div>
<div class="t" style="left:115px;top:697.2px;font-size:9.8px;color:#2c2c2c;transform:scaleX(1.1200);transform-origin:0 0;">ext3</div>
<div class="t" style="left:164.5px;top:697.2px;font-size:9.8px;color:#2c2c2c;transform:scaleX(1.0889);transform-origin:0 0;">/dev/hda3</div>
<div class="b" style="left:246.8px;top:703.4000000000001px;width:10.8px;height:7px;background:#00f000;"></div>
<div class="t" style="left:261.1px;top:697.2px;font-size:9.8px;color:#2c2c2c;transform:scaleX(1.0307);transform-origin:0 0;">7%</div>
<div class="t r" style="left:-128px;width:600px;top:697.2px;font-size:9.8px;color:#2c2c2c;transform:scaleX(1.0472);transform-origin:600px 0;">8.29 GB</div>
<div class="t r" style="left:-40.700000000000045px;width:600px;top:697.2px;font-size:9.8px;color:#2c2c2c;transform:scaleX(1.0700);transform-origin:600px 0;">687.39 MB</div>
<div class="t r" style="left:48.299999999999955px;width:600px;top:697.2px;font-size:9.8px;color:#2c2c2c;transform:scaleX(1.0472);transform-origin:600px 0;">9.45 GB</div>
<div class="t" style="left:38px;top:712.2px;font-size:9.8px;color:#2c2c2c;transform:scaleX(1.0823);transform-origin:0 0;">/dev/shm</div>
<div class="t" style="left:115px;top:712.2px;font-size:9.8px;color:#2c2c2c;transform:scaleX(1.1225);transform-origin:0 0;">tmpfs</div>
<div class="t" style="left:164.5px;top:712.2px;font-size:9.8px;color:#2c2c2c;transform:scaleX(1.1225);transform-origin:0 0;">tmpfs</div>
<div class="b" style="left:246.8px;top:718.4000000000001px;width:2px;height:7px;background:#00f000;"></div>
<div class="t" style="left:252.3px;top:712.2px;font-size:9.8px;color:#2c2c2c;transform:scaleX(1.0633);transform-origin:0 0;">0% (1%)</div>
<div class="t r" style="left:-128px;width:600px;top:712.2px;font-size:9.8px;color:#2c2c2c;transform:scaleX(1.0700);transform-origin:600px 0;">880.87 MB</div>
<div class="t r" style="left:-40.700000000000045px;width:600px;top:712.2px;font-size:9.8px;color:#2c2c2c;transform:scaleX(1.0578);transform-origin:600px 0;">0.00 KB</div>
<div class="t r" style="left:48.299999999999955px;width:600px;top:712.2px;font-size:9.8px;color:#2c2c2c;transform:scaleX(1.0700);transform-origin:600px 0;">880.87 MB</div>
<div class="t r" style="left:-365.4px;width:600px;top:727.2px;font-size:9.8px;font-style:italic;color:#2c2c2c;transform:scaleX(1.0283);transform-origin:600px 0;">Totals :</div>
<div class="b" style="left:246.8px;top:733.4000000000001px;width:9.2px;height:7px;background:#00f000;"></div>
<div class="t" style="left:259.6px;top:727.2px;font-size:9.8px;color:#2c2c2c;transform:scaleX(1.0307);transform-origin:0 0;">6%</div>
<div class="t r" style="left:-128px;width:600px;top:727.2px;font-size:9.8px;color:#2c2c2c;transform:scaleX(1.0578);transform-origin:600px 0;">10.03 GB</div>
<div class="t r" style="left:-40.700000000000045px;width:600px;top:727.2px;font-size:9.8px;color:#2c2c2c;transform:scaleX(1.0700);transform-origin:600px 0;">707.92 MB</div>
<div class="t r" style="left:48.299999999999955px;width:600px;top:727.2px;font-size:9.8px;color:#2c2c2c;transform:scaleX(1.0578);transform-origin:600px 0;">11.26 GB</div>
<svg width="818" height="768" style="left:0;top:0">
<defs>
<radialGradient id="sun" cx="0.4" cy="0.4" r="0.6"><stop offset="0" stop-color="#fff39a"/><stop offset="1" stop-color="#f0b400"/></radialGradient>
<linearGradient id="grayb" x1="0" y1="0" x2="0" y2="1"><stop offset="0" stop-color="#f4f4f4"/><stop offset="1" stop-color="#b9b9b9"/></linearGradient>
<linearGradient id="bolt" x1="0" y1="0" x2="1" y2="1"><stop offset="0" stop-color="#ffe760"/><stop offset="1" stop-color="#e8a010"/></linearGradient>
<linearGradient id="pieb" x1="0" y1="0" x2="0.3" y2="1"><stop offset="0" stop-color="#b4d0f6"/><stop offset="0.5" stop-color="#6f9ee6"/><stop offset="1" stop-color="#2a58b0"/></linearGradient>
<linearGradient id="pieg" x1="0" y1="0" x2="1" y2="1"><stop offset="0" stop-color="#a0e6a0"/><stop offset="1" stop-color="#3cae3c"/></linearGradient>
<linearGradient id="distro" x1="0" y1="0" x2="0" y2="1"><stop offset="0" stop-color="#7083a6"/><stop offset="1" stop-color="#4a5d80"/></linearGradient>
</defs>
<g fill="none" stroke="#f0f0f0" stroke-width="1.65">
<circle cx="20.55" cy="14.4" r="3.95"/>
<path d="M27.6,10.4V22.8"/><circle cx="31.55" cy="14.4" r="3.95"/>
<path d="M45.7,12.4L38.2,15.9M45.7,12.4A3.95,3.95 0 1 0 45.1,17.4"/>
<path d="M49.1,18.9V13.8A2.9,3.9 0 0 1 54.9,13.8V18.9"/>
<path d="M58.3,18.9V9.4Q58.3,6.9 61.4,6.9M56.3,10.6H61"/>
<path d="M64.2,10.4V18.9"/>
<path d="M68.8,6.2V18.9"/>
<path d="M80.5,12.4L73,15.9M80.5,12.4A3.95,3.95 0 1 0 79.9,17.4"/>
<path d="M83.2,18.9V10.4M83.2,13.8Q83.4,10.1 86.9,10.1"/>
</g>
<circle cx="64.2" cy="8.2" r="0.95" fill="#f0f0f0"/>
<!-- status tab: sun + cloud -->
<circle cx="32.3" cy="52" r="4.2" fill="url(#sun)"/>
<path d="M28.6,49.2l0.5,-1.1l0.7,0.6l0.6,-1l0.7,0.7l0.8,-0.9l0.7,0.8l0.8,-0.6l0.5,1" fill="#f0b818"/>
<g fill="#f1f1ee"><ellipse cx="34.8" cy="54.6" rx="2.5" ry="1.9"/><circle cx="32.2" cy="55.7" r="1.7"/><circle cx="36.8" cy="55.9" r="1.5"/><rect x="30.3" y="55.8" width="8" height="1.9" rx="0.8"/></g>
<!-- system tab: monitor + tower -->
<rect x="88.8" y="48.2" width="6.6" height="8.5" fill="#d8d8d6"/>
<path d="M88.8,48.2l1.5,-0.9h5.1v0.9z" fill="#ececec"/>
<circle cx="93.6" cy="53.3" r="1" fill="#3cb43c"/>
<rect x="85" y="49.9" width="7" height="6.2" fill="#e4e4e2"/>
<rect x="86.4" y="51" width="4.4" height="4" fill="#4f86d0"/>
<rect x="87.2" y="56.1" width="3.6" height="1.9" fill="#c8c8c6"/>
<!-- volumes tab: drive + green arrow -->
<rect x="144.8" y="49" width="10.1" height="7" rx="1" fill="url(#grayb)"/>
<rect x="145.8" y="53.2" width="8" height="1.3" fill="#8c8c8c"/>
<path d="M148.2,54.3h3.4v-2.1l3.5,3l-3.5,3v-2h-3.4z" fill="#3aa43a"/>
<!-- quota tab: pie -->
<path d="M214.8,52.9L215.70,47.78A5.2,5.2 0 0 1 214.35,58.08z" fill="url(#pieb)"/>
<path d="M214.6,53.1L214.15,58.28A5.2,5.2 0 0 1 209.42,52.65z" fill="#e83a3e"/>
<path d="M214.6,52.7L209.42,52.25A5.2,5.2 0 0 1 215.50,47.58z" fill="url(#pieg)"/>
<!-- shares tab: drive + network -->
<rect x="265" y="47.7" width="10.1" height="7.1" rx="1" fill="url(#grayb)"/>
<rect x="266" y="52" width="8.1" height="1.4" fill="#8a8a8a"/>
<rect x="270" y="54.8" width="1.2" height="1.6" fill="#6b6b6b"/>
<rect x="265" y="56.1" width="10.8" height="1.4" fill="#6e6e6e"/>
<circle cx="270.6" cy="57.5" r="1.3" fill="#3f7ee0"/>
<!-- services tab: lightning -->
<path d="M326.1,48.45L332.65,48.45L331,51.7L333.1,52.7L325.9,57.6L327.7,53.8L323.75,53.6Z" fill="url(#bolt)"/>
<!-- accounts tab: people -->
<circle cx="394.5" cy="49.6" r="2.3" fill="#f0a81a"/>
<circle cx="394.6" cy="50.6" r="1.6" fill="#f6d2a8"/>
<path d="M392.6,52.8h3.8l1.9,1.8l-1.2,1.2l-0.4,2.4h-3.8z" fill="#f2cf3c"/>
<circle cx="391" cy="52.7" r="2" fill="#a86a3a"/>
<circle cx="391.1" cy="53.6" r="1.4" fill="#f6d2a8"/>
<path d="M389.2,55.2h2.8l1,3h-4.2z" fill="#62a8e8"/>
<path d="M387.8,56.2l1.2,-0.8l0.4,2.4l-1.2,0.2z" fill="#2f64c8"/>
<!-- sidebar icons -->
<rect x="690.9" y="97.9" width="4.4" height="7" fill="#d0d0ce"/>
<rect x="695.7" y="99.4" width="5.2" height="4" fill="#e2e2e2"/>
<rect x="696.3" y="99.9" width="4" height="3" fill="#3b74cc"/>
<rect x="695.4" y="103.6" width="5.6" height="1.2" fill="#c4c4c4"/>
<circle cx="697.9" cy="114" r="2.2" fill="#a8a8a8"/>
<path d="M692.4,119.2l4.2,-4.4l1.4,1.3l-4.3,4.2z" fill="#4d86dc"/>
<path d="M691.2,174.5q2.5,-1.6 5,-0.6q2.8,1.5 2.8,4.4q-0.5,3 -3.5,3.2q-3.2,-0.3 -4.3,-3.5z" fill="#45a045"/>
<circle cx="697.2" cy="179.4" r="1.1" fill="#d8f0d8"/>
<rect x="690.9" y="188.2" width="7.4" height="6.2" fill="#5b88d0"/>
<rect x="691.6" y="189.6" width="6" height="2" fill="#cfe0f6"/>
<circle cx="697.3" cy="193.7" r="1.8" fill="#4aa84a"/>
<rect x="690.9" y="201.6" width="7.6" height="6.4" fill="#8fb2e6"/>
<path d="M691.6,202.4l3.2,2.6l3,-2.6" stroke="#ffffff" stroke-width="0.8" fill="none"/>
<path d="M694.8,205.6h2.2v-1.3l2.4,2.3l-2.4,2.3v-1.3h-2.2z" fill="#4aa84a"/>
<rect x="690.9" y="215.4" width="8" height="7.2" fill="#4b7cc8"/>
<rect x="691.7" y="216.4" width="6.4" height="5" fill="#f0f0ea"/>
<rect x="694.7" y="216.4" width="0.6" height="5" fill="#9a9a9a"/>
<rect x="139" y="198" width="10" height="10" rx="1.2" fill="url(#distro)"/>
</svg>
</body></html>
